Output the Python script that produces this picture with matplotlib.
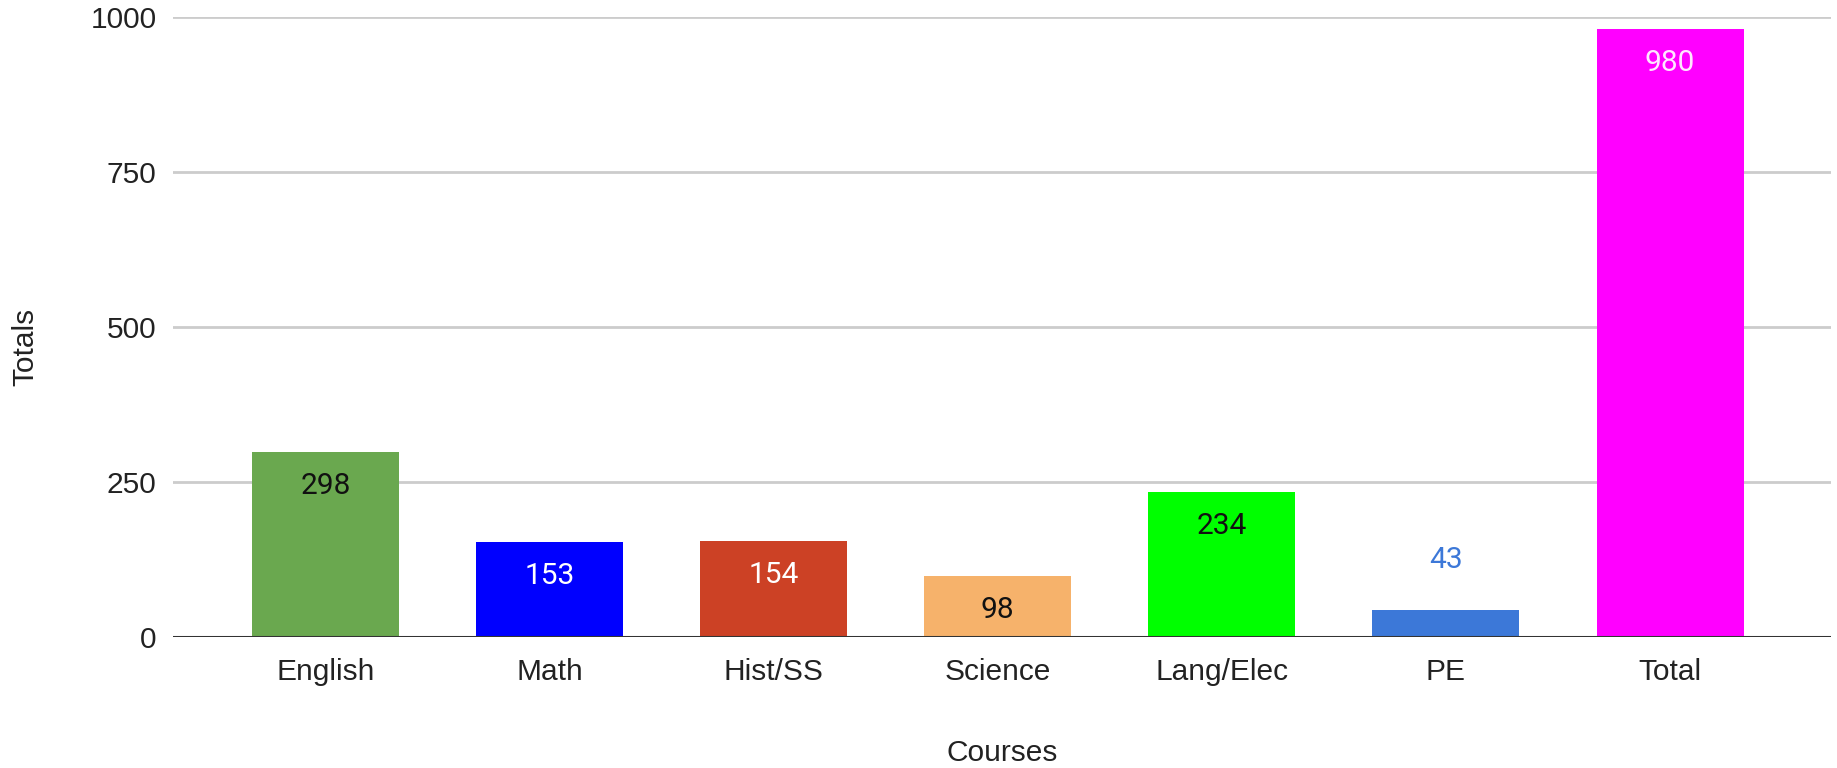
import matplotlib
matplotlib.use("Agg")
import matplotlib.pyplot as plt

courses = ["English", "Math", "Hist/SS", "Science", "Lang/Elec", "PE", "Total"]
totals = [298, 153, 154, 98, 234, 43, 980]
bar_colors = ["#6aa84f", "#0000ff", "#cc4125", "#f6b26b", "#00ff00", "#3c78d8", "#ff00ff"]
label_colors = ["#111111", "#ffffff", "#ffffff", "#111111", "#111111", "#3c78d8", "#ffe6ff"]
y_ticks = [0, 250, 500, 750, 1000]

plt.rcParams['font.family'] = ['Liberation Sans', 'DejaVu Sans']

fig = plt.figure(figsize=(18.37, 7.68), dpi=100)
ax = fig.add_axes([0.0942, 0.1706, 0.9025, 0.8073])

x = list(range(len(courses)))
bars = ax.bar(x, totals, width=0.656, color=bar_colors, zorder=3)

# labels inside the bar, or above it if the bar is too short
for b, v, c in zip(bars, totals, label_colors):
    cx = b.get_x() + b.get_width() / 2
    dy = -34 if v > 80 else 50
    ax.annotate(str(v), (cx, v), xytext=(0, dy), textcoords='offset pixels',
                ha='center', va='center', fontsize=21.5, color=c,
                family=['Roboto', 'DejaVu Sans'], zorder=4)

ax.set_xlim(-0.68, 6.718)
ax.set_ylim(0, 1000)
ax.set_yticks(y_ticks)
ax.set_xticks(x)
ax.set_xticklabels(courses)
ax.tick_params(axis='both', length=0, labelsize=21.5, colors='#222222')
ax.tick_params(axis='x', pad=15)
ax.tick_params(axis='y', pad=12)

ax.yaxis.grid(True, color='#cccccc', linewidth=2, zorder=0)
ax.axhline(0, color='#333333', linewidth=2.2, zorder=5)
for s in ax.spines.values():
    s.set_visible(False)

ax.set_xlabel("Courses", fontsize=21.5, color='#222222')
ax.set_ylabel("Totals", fontsize=21.5, color='#222222')
# xlabel center ~116 px below the axis (axes height 620 px)
ax.xaxis.set_label_coords(0.5, -116 / 620)
ax.yaxis.set_label_coords(-0.089, 0.468)
ax.xaxis.label.set_va('center')
ax.yaxis.label.set_va('center')

fig.savefig("out.png", dpi=100, facecolor='white')
